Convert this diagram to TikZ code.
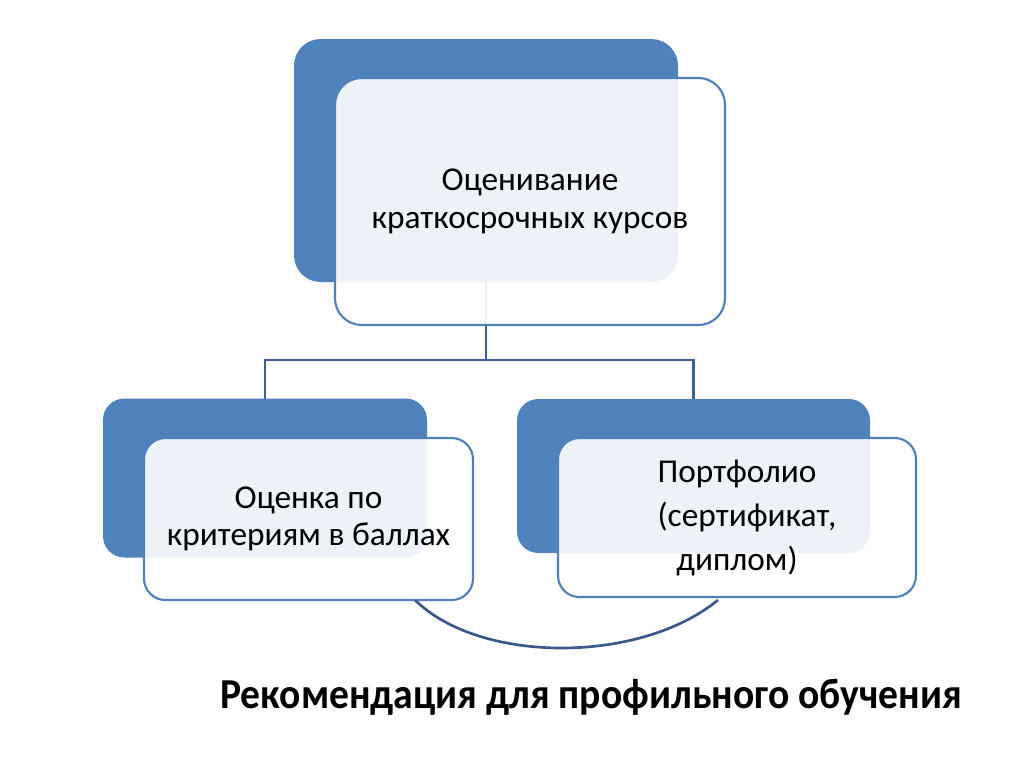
\documentclass[tikz,border=0pt]{standalone}
\usepackage{fontspec}
\setmainfont{Carlito}
\definecolor{myblue}{RGB}{79,129,189}
\definecolor{mydarkblue}{RGB}{62,96,146}
\definecolor{mycurve}{RGB}{58,88,140}
\usetikzlibrary{positioning,calc}

\begin{document}
\begin{tikzpicture}[
  x=0.75pt, y=-0.75pt,
  backbox/.style={
    fill=myblue,
    rounded corners=#1,
    inner sep=0pt,
    outer sep=0pt
    },
  backbox/.default=16pt,
  frontbox/.style={
    draw=myblue,
    line width=1.6pt,
    fill=white,
    fill opacity=0.9,
    text opacity=1,
    rounded corners=#1,
    align=center,
    inner sep=0pt,
    outer sep=0pt,
    font=\fontsize{25}{28}\selectfont
    },
  frontbox/.default=16pt,
  link/.style={draw=mydarkblue, line width=2.2pt}
]
\useasboundingbox (0,0) rectangle (1024,768);

% back boxes
\node[backbox=20pt, minimum width=384*0.75pt, minimum height=243*0.75pt] (eval) at (486,160.5) {};
\node[backbox, minimum width=324*0.75pt, minimum height=159*0.75pt] (crit) at (265,478) {};
\node[backbox, minimum width=353*0.75pt, minimum height=154*0.75pt] (port) at (693.5,476) {};

% connectors
\draw[link] (eval.south) -- ++(0,78) -| (crit.north);
\draw[link] (eval.south) -- ++(0,78) -| (port.north);

% front boxes
\node[frontbox=20pt, minimum width=390*0.75pt, minimum height=247*0.75pt] (evalfront) at (530,201.5)
  {Оценивание\\ краткосрочных курсов};
\node[frontbox, minimum width=329*0.75pt, minimum height=162*0.75pt] (critfront) at (308.5,519)
  {Оценка по\\ критериям в баллах};
\node[frontbox, minimum width=358*0.75pt, minimum height=159*0.75pt,
  font=\fontsize{25}{33}\selectfont] (portfront) at (737,517.5)
  {Портфолио\\ \hspace*{0.6em}(сертификат,\\ диплом)};

% bottom curve
\coordinate (cl) at ($(critfront.south east)+(-58,0)$);
\coordinate (cr) at ($(portfront.south west)+(160,3)$);
\draw[mycurve, line width=2pt] (cl) .. controls (480,664) and (640,664) .. (cr);

\node[font=\bfseries\fontsize{32}{38}\selectfont, anchor=base] (title) at (591,708)
  {\scalebox{0.928}[1]{Рекомендация для профильного обучения}};
\end{tikzpicture}
\end{document}
